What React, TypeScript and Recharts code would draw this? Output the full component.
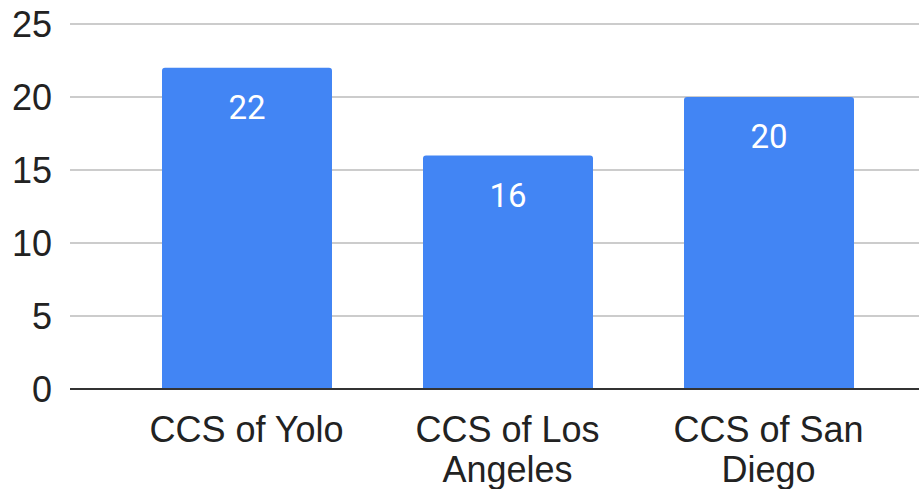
import React from 'react';
import { BarChart, Bar, XAxis, YAxis, CartesianGrid, LabelList } from 'recharts';

const categories = ['CCS of Yolo', 'CCS of Los Angeles', 'CCS of San Diego'];
const counts = [22, 16, 20];
const yTicks = [0, 5, 10, 15, 20, 25];

const data = categories.map((name, i) => ({ name, value: counts[i] }));

const AXIS_FONT = '"Liberation Sans", Arial, sans-serif';
const MAX_CHARS = 11;

// simple word wrap by character count
const wrap = (s: string) => {
  const lines: string[] = [];
  let cur = '';
  s.split(' ').forEach((w) => {
    const next = cur ? cur + ' ' + w : w;
    if (next.length > MAX_CHARS && cur) {
      lines.push(cur);
      cur = w;
    } else {
      cur = next;
    }
  });
  if (cur) lines.push(cur);
  return lines;
};

const CategoryTick = (props: any) => {
  const { x, y, payload } = props;
  const lines = wrap(String(payload.value));
  return (
    <text
      x={x}
      y={y + 53}
      textAnchor="middle"
      fontSize={36}
      fontFamily={AXIS_FONT}
      fill="#222"
    >
      {lines.map((l, i) => (
        <tspan key={i} x={x} dy={i === 0 ? 0 : 40}>
          {l}
        </tspan>
      ))}
    </text>
  );
};

const App: React.FC = () => {
  return (
    <div style={{ position: 'absolute', left: 0, top: 0, background: '#fff' }}>
      <BarChart
        width={919}
        height={489}
        data={data}
        margin={{ top: 24, right: 0, bottom: 0, left: 0 }}
        barSize={170}
      >
        <CartesianGrid vertical={false} stroke="#cccccc" strokeWidth={2} />
        <XAxis
          dataKey="name"
          height={100}
          padding={{ left: 46, right: 20 }}
          axisLine={{ stroke: '#333', strokeWidth: 2 }}
          tickLine={false}
          tickSize={0}
          tickMargin={0}
          interval={0}
          tick={<CategoryTick />}
        />
        <YAxis
          width={70}
          domain={[0, 25]}
          ticks={yTicks}
          axisLine={false}
          tickLine={false}
          tickSize={0}
          tickMargin={18}
          tick={{ fontSize: 36, fontFamily: AXIS_FONT, fill: '#222' }}
        />
        <Bar dataKey="value" fill="#4285F4" radius={[3, 3, 0, 0]} isAnimationActive={false}>
          <LabelList
            dataKey="value"
            position="insideTop"
            offset={28}
            fill="#fff"
            fontSize={33}
            fontFamily="Roboto, sans-serif"
          />
        </Bar>
      </BarChart>
    </div>
  );
};

export default App;
